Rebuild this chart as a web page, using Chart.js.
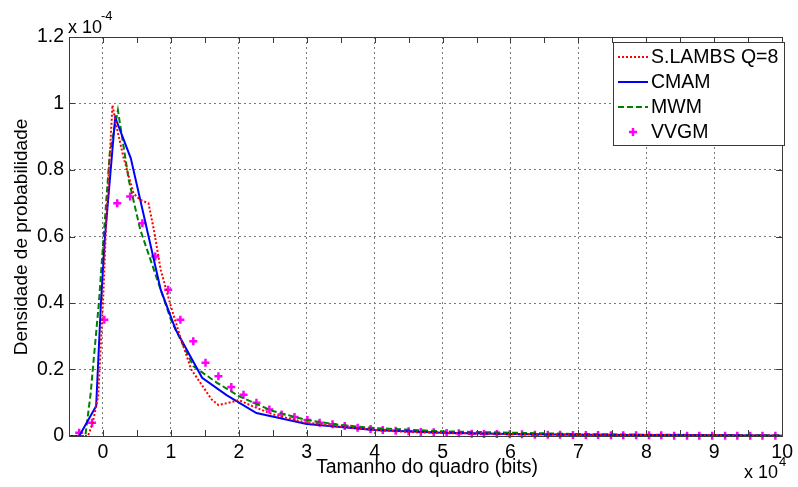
<!DOCTYPE html>
<html>
<head>
<meta charset="utf-8">
<title>Densidade de probabilidade</title>
<script src="https://cdn.jsdelivr.net/npm/chart.js@4/dist/chart.umd.min.js"></script>
<style>
  body { margin: 0; background: #fff; }
</style>
</head>
<body>
<canvas id="pdfChart" width="798" height="487"></canvas>
<script>
// frame size (x 10^4 bits) and density (x 10^-4)
var xTickVals = [0, 1, 2, 3, 4, 5, 6, 7, 8, 9, 10];
var yTickVals = [0, 0.2, 0.4, 0.6, 0.8, 1, 1.2];
var seriesNames = ['S.LAMBS Q=8', 'CMAM', 'MWM', 'VVGM'];

var lambsX = [-0.5, -0.22, -0.15, -0.07, 0.0, 0.05, 0.14, 0.2, 0.3, 0.45, 0.55, 0.67, 0.75, 0.85, 1.0, 1.15, 1.3, 1.45, 1.6, 1.7, 1.85, 2.0, 2.2, 2.5, 3.0, 3.5, 4.0, 4.5, 5, 6, 7, 8, 9, 10];
var lambsY = [0, 0, 0.04, 0.12, 0.4, 0.65, 0.995, 0.93, 0.84, 0.73, 0.71, 0.70, 0.62, 0.5, 0.39, 0.29, 0.2, 0.155, 0.11, 0.093, 0.1, 0.108, 0.09, 0.065, 0.04, 0.028, 0.018, 0.012, 0.009, 0.006, 0.004, 0.003, 0.002, 0.001];

var cmamX = [-0.5, -0.35, -0.1, -0.03, 0.03, 0.18, 0.41, 0.85, 1.07, 1.46, 1.82, 2.26, 3, 4, 5, 6, 7, 8, 9, 10];
var cmamY = [0, 0, 0.09, 0.4, 0.6, 0.958, 0.835, 0.44, 0.32, 0.175, 0.123, 0.069, 0.036, 0.018, 0.01, 0.006, 0.004, 0.003, 0.002, 0.001];

var mwmX = [-0.5, -0.26, -0.18, -0.15, -0.06, 0.01, 0.1, 0.22, 0.38, 0.55, 0.85, 1.0, 1.33, 1.68, 2.0, 2.5, 3, 3.5, 4, 5, 6, 7, 8, 9, 10];
var mwmY = [0, 0, 0.13, 0.2, 0.4, 0.6, 0.85, 0.98, 0.77, 0.62, 0.44, 0.35, 0.21, 0.16, 0.12, 0.075, 0.048, 0.033, 0.024, 0.014, 0.01, 0.006, 0.004, 0.003, 0.002];

var vvgmX = [-0.35, -0.16, 0.02, 0.21, 0.40, 0.58, 0.77, 0.96, 1.14, 1.33, 1.51, 1.70, 1.89, 2.07, 2.26, 2.45, 2.63, 2.82, 3.01, 3.19,
             3.38, 3.56, 3.75, 3.94, 4.12, 4.31, 4.50, 4.68, 4.87, 5.06, 5.24, 5.43, 5.61, 5.80, 5.99, 6.17, 6.36, 6.55, 6.73, 6.92,
             7.11, 7.29, 7.48, 7.66, 7.85, 8.04, 8.22, 8.41, 8.60, 8.78, 8.97, 9.16, 9.34, 9.53, 9.71, 9.90];
var vvgmY = [0.01, 0.04, 0.35, 0.70, 0.72, 0.64, 0.54, 0.44, 0.35, 0.285, 0.22, 0.18, 0.147, 0.124, 0.10, 0.08, 0.065, 0.057, 0.048, 0.04,
             0.035, 0.03, 0.025, 0.021, 0.018, 0.016, 0.014, 0.012, 0.011, 0.009, 0.008, 0.007, 0.006, 0.006, 0.005, 0.005, 0.004, 0.004, 0.004, 0.003,
             0.003, 0.003, 0.002, 0.002, 0.002, 0.002, 0.002, 0.001, 0.001, 0.001, 0.001, 0.001, 0.001, 0.001, 0.001, 0.001];

function pts(xs, ys) {
  return xs.map(function (x, i) { return { x: x, y: ys[i] }; });
}

var FONT = '"Liberation Sans", Arial, sans-serif';
var TXT = 19.5;
var AXIS_COLOR = '#3a3a3a';
var GRID_COLOR = '#7a7a7a';

// MATLAB style frame, inward tick marks, exponent labels, axis titles and legend
var matlabDecor = {
  id: 'matlabDecor',
  afterDraw: function (chart) {
    var ctx = chart.ctx, a = chart.chartArea;
    var xs = chart.scales.x, ys = chart.scales.y;
    ctx.save();

    // box
    ctx.strokeStyle = AXIS_COLOR;
    ctx.lineWidth = 1;
    ctx.strokeRect(Math.round(a.left) + 0.5, Math.round(a.top) + 0.5,
                   Math.round(a.right - a.left), Math.round(a.bottom - a.top));

    // tick marks
    ctx.beginPath();
    xTickVals.forEach(function (v) {
      [v, v + 0.5].forEach(function (t) {
        if (t > 10) return;
        var px = Math.round(xs.getPixelForValue(t)) + 0.5;
        ctx.moveTo(px, a.bottom); ctx.lineTo(px, a.bottom - 6);
        ctx.moveTo(px, a.top); ctx.lineTo(px, a.top + 6);
      });
    });
    yTickVals.forEach(function (t) {
      var py = Math.round(ys.getPixelForValue(t)) + 0.5;
      ctx.moveTo(a.left, py); ctx.lineTo(a.left + 6, py);
      ctx.moveTo(a.right, py); ctx.lineTo(a.right - 6, py);
    });
    ctx.stroke();

    // exponent labels
    ctx.fillStyle = '#000';
    ctx.textBaseline = 'alphabetic';
    ctx.textAlign = 'left';
    ctx.font = '18px ' + FONT;
    ctx.fillText('x 10', 68, 33);
    ctx.fillText('x 10', 744, 478);
    ctx.font = '13px ' + FONT;
    ctx.fillText('-4', 101, 20);
    ctx.fillText('4', 779, 466);

    // axis titles
    ctx.font = TXT + 'px ' + FONT;
    ctx.textAlign = 'center';
    ctx.textBaseline = 'middle';
    ctx.fillText('Tamanho do quadro (bits)', 427, 468);
    ctx.save();
    ctx.translate(22, 237);
    ctx.rotate(-Math.PI / 2);
    ctx.font = '19px ' + FONT;
    ctx.fillText('Densidade de probabilidade', 0, 0);
    ctx.restore();

    // legend
    var lx = 613, ly = 42, lw = 171, lh = 103;
    ctx.fillStyle = '#fff';
    ctx.fillRect(lx, ly, lw, lh);
    ctx.strokeStyle = AXIS_COLOR;
    ctx.strokeRect(lx + 0.5, ly + 0.5, lw, lh);
    ctx.textAlign = 'left';
    chart.data.datasets.forEach(function (ds, i) {
      var cy = ly + 15 + i * 25;
      ctx.strokeStyle = ds.borderColor;
      ctx.lineWidth = ds.borderWidth;
      if (ds.showLine === false) {
        ctx.beginPath();
        ctx.moveTo(633 - 4, cy); ctx.lineTo(633 + 4, cy);
        ctx.moveTo(633, cy - 4); ctx.lineTo(633, cy + 4);
        ctx.stroke();
      } else {
        ctx.setLineDash(ds.borderDash || []);
        ctx.beginPath();
        ctx.moveTo(618, cy); ctx.lineTo(648, cy);
        ctx.stroke();
        ctx.setLineDash([]);
      }
      ctx.fillStyle = '#000';
      ctx.fillText(seriesNames[i], 651, cy + 1);
    });
    ctx.restore();
  }
};

new Chart(document.getElementById('pdfChart').getContext('2d'), {
  type: 'line',
  data: {
    datasets: [{
      label: seriesNames[0],
      data: pts(lambsX, lambsY),
      borderColor: '#ff0000',
      borderWidth: 2,
      borderDash: [2, 2],
      pointRadius: 0
    }, {
      label: seriesNames[1],
      data: pts(cmamX, cmamY),
      borderColor: '#0000ff',
      borderWidth: 2,
      pointRadius: 0
    }, {
      label: seriesNames[2],
      data: pts(mwmX, mwmY),
      borderColor: '#008000',
      borderWidth: 2,
      borderDash: [6, 3],
      pointRadius: 0
    }, {
      label: seriesNames[3],
      data: pts(vvgmX, vvgmY),
      borderColor: '#ff00ff',
      backgroundColor: '#ff00ff',
      borderWidth: 2.5,
      showLine: false,
      pointStyle: 'cross',
      pointRadius: 4,
      clip: false
    }]
  },
  options: {
    responsive: false,
    animation: false,
    events: [],
    layout: { padding: { left: 0, top: 37, right: 11, bottom: 0 } },
    elements: { line: { tension: 0, fill: false } },
    plugins: {
      legend: { display: false },
      tooltip: { enabled: false }
    },
    scales: {
      x: {
        type: 'linear',
        min: -0.5,
        max: 10,
        afterBuildTicks: function (scale) {
          scale.ticks = xTickVals.map(function (v) { return { value: v }; });
        },
        afterFit: function (scale) { scale.height = 51; },
        grid: { color: GRID_COLOR, lineWidth: 1, drawTicks: false },
        border: { display: false, dash: [2, 3] },
        ticks: {
          padding: 5,
          color: '#000',
          font: { family: FONT, size: TXT },
          maxRotation: 0,
          autoSkip: false,
          callback: function (v) { return String(v); }
        }
      },
      y: {
        type: 'linear',
        min: 0,
        max: 1.2,
        afterBuildTicks: function (scale) {
          scale.ticks = yTickVals.map(function (v) { return { value: v }; });
        },
        afterFit: function (scale) { scale.width = 69; },
        grid: { color: GRID_COLOR, lineWidth: 1, drawTicks: false },
        border: { display: false, dash: [2, 3] },
        ticks: {
          padding: 5,
          color: '#000',
          font: { family: FONT, size: TXT },
          autoSkip: false,
          callback: function (v) { return String(Math.round(v * 10) / 10); }
        }
      }
    }
  },
  plugins: [matlabDecor]
});
</script>
</body>
</html>
